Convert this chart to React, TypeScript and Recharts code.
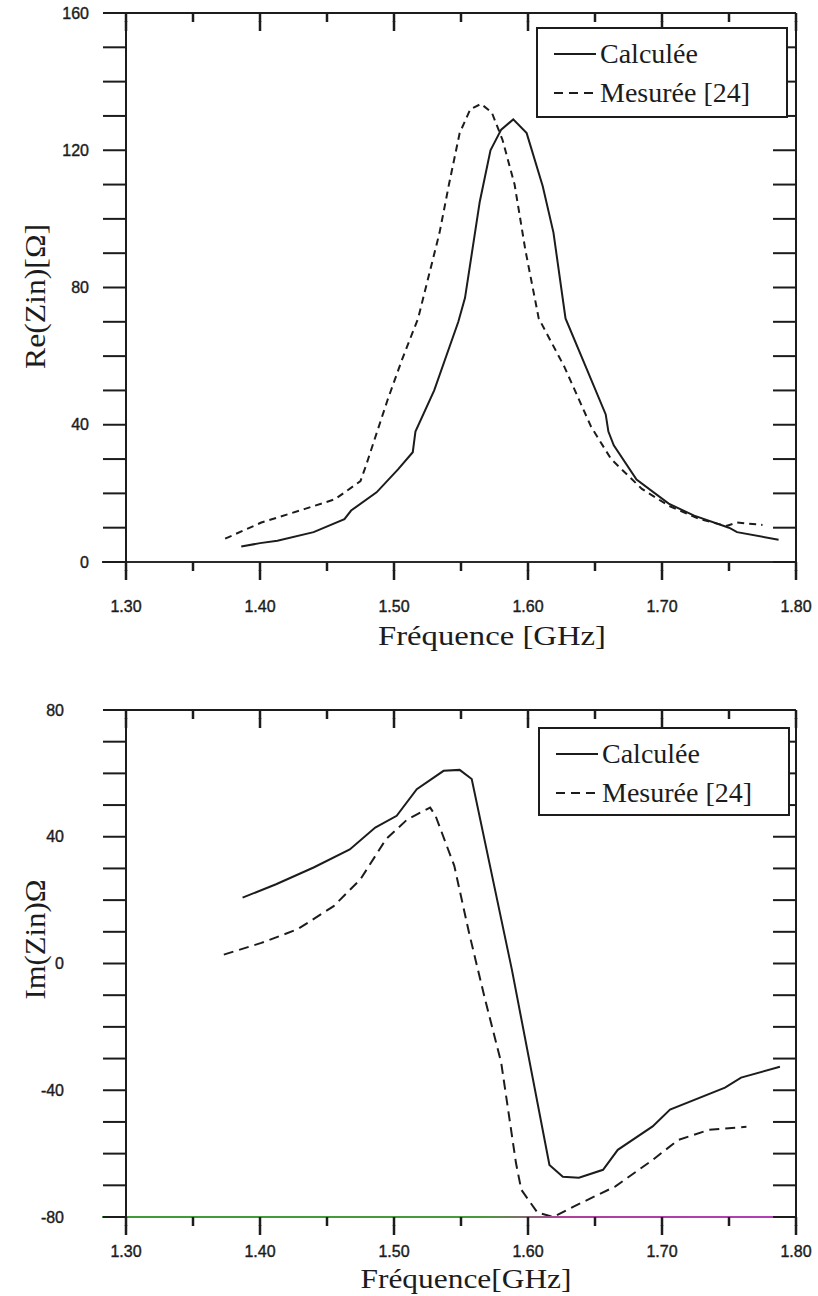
import React from 'react';
import { LineChart, Line, XAxis, YAxis, Legend, Label } from 'recharts';

// axis ticks
const FREQ_TICKS = [1.3, 1.35, 1.4, 1.45, 1.5, 1.55, 1.6, 1.65, 1.7, 1.75, 1.8];
const RE_TICKS = [0, 10, 20, 30, 40, 50, 60, 70, 80, 90, 100, 110, 120, 130, 140, 150, 160];
const IM_TICKS = [-80, -70, -60, -50, -40, -30, -20, -10, 0, 10, 20, 30, 40, 50, 60, 70, 80];

const SERIES_NAMES = ['Calculée', 'Mesurée [24]'];

// Re(Zin) - calculated
const reCalcFreq = [1.386, 1.4, 1.413, 1.44, 1.463, 1.468, 1.487, 1.503, 1.514, 1.516, 1.53, 1.548, 1.553, 1.564, 1.572, 1.58, 1.589, 1.599, 1.611, 1.619, 1.628, 1.643, 1.658, 1.66, 1.664, 1.681, 1.705, 1.724, 1.75, 1.756, 1.787];
const reCalcVal = [4.5, 5.5, 6.2, 8.7, 12.5, 15, 20.3, 27, 32, 38, 50, 70, 77, 105, 120, 126, 129, 125, 109.5, 96, 71, 57, 43, 38, 34, 24, 17, 13.5, 10, 8.7, 6.5];

// Re(Zin) - measured
const reMesFreq = [1.374, 1.401, 1.433, 1.456, 1.475, 1.479, 1.495, 1.506, 1.518, 1.534, 1.541, 1.549, 1.557, 1.565, 1.573, 1.581, 1.59, 1.598, 1.608, 1.627, 1.647, 1.662, 1.685, 1.705, 1.728, 1.748, 1.756, 1.775];
const reMesVal = [6.8, 11.5, 15.4, 18.3, 23.6, 28, 47, 59, 71, 96, 110, 125, 132, 133.5, 131, 123, 110, 91, 71, 57, 39.5, 30, 21.3, 16.4, 12.5, 10.5, 11.5, 10.8];

// Im(Zin) - calculated
const imCalcFreq = [1.387, 1.412, 1.44, 1.467, 1.486, 1.502, 1.517, 1.537, 1.549, 1.558, 1.588, 1.616, 1.626, 1.638, 1.656, 1.667, 1.693, 1.706, 1.747, 1.759, 1.788];
const imCalcVal = [20.8, 25, 30.3, 36, 42.9, 46.6, 55, 60.8, 61.1, 58.2, -2, -63.6, -67.3, -67.6, -65.1, -58.8, -51.4, -46.1, -39.2, -36, -32.6];

// Im(Zin) - measured
const imMesFreq = [1.373, 1.401, 1.428, 1.455, 1.475, 1.494, 1.51, 1.527, 1.531, 1.545, 1.556, 1.568, 1.58, 1.591, 1.595, 1.607, 1.619, 1.634, 1.665, 1.693, 1.712, 1.735, 1.763];
const imMesVal = [2.8, 6.5, 10.8, 18.1, 26.6, 39.2, 45.5, 49.2, 46.6, 30.8, 9.7, -11.4, -31.3, -62.9, -71.4, -78.6, -80, -76.7, -70.4, -62, -55.7, -52.5, -51.5];

const zip = (f: number[], v: number[]) => f.map((x, i) => ({ f: x, v: v[i] }));

const reCalc = zip(reCalcFreq, reCalcVal);
const reMes = zip(reMesFreq, reMesVal);
const imCalc = zip(imCalcFreq, imCalcVal);
const imMes = zip(imMesFreq, imMesVal);

const INK = '#1c1c1c';
const SANS = '"Liberation Sans", Arial, sans-serif';
const SERIF = '"Liberation Serif", "Times New Roman", serif';

// short (minor) tick length, drawn by the axis; majors get the same again
const MINOR = 9;
const TICK_LINE = { stroke: INK, strokeWidth: 2.5 };

const isMajorFreq = (v: number) => Math.round(v * 100) % 10 === 0;

// y here is the end of the axis' own short tick line
const makeBottomTick = (labelDy: number, extColor: string) => (props: any) => {
  const x = Number(props.x);
  const y = Number(props.y);
  const { payload, index } = props;
  const major = isMajorFreq(payload.value);
  return (
    <g>
      {index === 0 && <line x1={x - 24} y1={y - MINOR} x2={x} y2={y - MINOR} stroke={extColor} strokeWidth={2} />}
      {major && <rect x={x - 1.25} y={y - 1} width={2.5} height={MINOR + 1} fill={INK} />}
      {major && (
        <text
          x={x}
          y={y - MINOR + labelDy}
          textAnchor="middle"
          style={{ fontFamily: SANS, fontSize: 16 }}
          fill={INK}
          stroke={INK}
          strokeWidth={0.4}
        >
          {payload.value.toFixed(2)}
        </text>
      )}
    </g>
  );
};

const TopTick = (props: any) => {
  const x = Number(props.x);
  const y = Number(props.y);
  const { payload, index } = props;
  const major = isMajorFreq(payload.value);
  return (
    <g>
      {index === 0 && <line x1={x - 20} y1={y - MINOR} x2={x} y2={y - MINOR} stroke={INK} strokeWidth={2} />}
      {major && <rect x={x - 1.25} y={y - 1} width={2.5} height={MINOR + 1} fill={INK} />}
    </g>
  );
};

const makeLeftTick = (labelGap: number) => (props: any) => {
  const { x, y, payload } = props;
  const major = payload.value % 40 === 0;
  return (
    <g>
      <line x1={x - 23} y1={y} x2={x} y2={y} stroke={INK} strokeWidth={2} />
      {major && (
        <text
          x={x - labelGap}
          y={y}
          textAnchor="end"
          dominantBaseline="central"
          style={{ fontFamily: SANS, fontSize: 16 }}
          fill={INK}
          stroke={INK}
          strokeWidth={0.4}
        >
          {payload.value}
        </text>
      )}
    </g>
  );
};

const RightTick = (props: any) => {
  const { x, y } = props;
  return <line x1={x - 23} y1={y} x2={x} y2={y} stroke={INK} strokeWidth={2} />;
};

const LegendBox = ({ payload, height }: any) => {
  const rows = (payload && payload.length ? payload : SERIES_NAMES.map((n) => ({ value: n }))).map(
    (entry: any, i: number) => ({
      name: entry.value ?? SERIES_NAMES[i],
      dash: i === 1 ? '9 6' : undefined,
    })
  );
  return (
    <svg width={252} height={height} style={{ display: 'block' }}>
      <rect x={1} y={1} width={250} height={height - 2} fill="#fff" stroke={INK} strokeWidth={2} />
      {rows.map((r: any, i: number) => {
        const base = 36 + i * 39;
        return (
          <g key={r.name}>
            <line x1={18} y1={base - 9} x2={60} y2={base - 9} stroke={INK} strokeWidth={2} strokeDasharray={r.dash} />
            <text x={64} y={base} fontFamily={SERIF} fontSize={28} fill={INK}>
              {r.name}
            </text>
          </g>
        );
      })}
    </svg>
  );
};

const xTitle = (text: string, dx: number, dy: number, len: number) => (props: any) => {
  const vb = props.viewBox;
  return (
    <text
      x={vb.x + vb.width / 2 + dx}
      y={vb.y + dy}
      textAnchor="middle"
      style={{ fontFamily: SERIF, fontSize: 28 }}
      fill={INK}
      textLength={len}
      lengthAdjust="spacingAndGlyphs"
    >
      {text}
    </text>
  );
};

const yTitle = (text: string, dy: number, len: number) => (props: any) => {
  const vb = props.viewBox;
  const cx = vb.x + 45;
  const cy = vb.y + vb.height / 2 + dy;
  return (
    <text
      x={cx}
      y={cy}
      transform={`rotate(-90 ${cx} ${cy})`}
      textAnchor="middle"
      style={{ fontFamily: SERIF, fontSize: 30 }}
      fill={INK}
      textLength={len}
      lengthAdjust="spacingAndGlyphs"
    >
      {text}
    </text>
  );
};

const ReChart = () => (
  <LineChart width={818} height={660} margin={{ top: 13, right: 21, left: 0, bottom: 0 }}>
    <XAxis
      xAxisId="bottom"
      dataKey="f"
      type="number"
      domain={[1.3, 1.8]}
      allowDataOverflow
      ticks={FREQ_TICKS}
      interval={0}
      height={98}
      tickSize={MINOR}
      tickMargin={0}
      tickLine={TICK_LINE}
      axisLine={{ stroke: '#2a2a2a', strokeWidth: 2 }}
      tick={makeBottomTick(50, '#2a2a2a')}
    >
      <Label content={xTitle('Fréquence [GHz]', 31, 83, 228)} />
    </XAxis>
    <XAxis
      xAxisId="top"
      orientation="top"
      mirror
      dataKey="f"
      type="number"
      domain={[1.3, 1.8]}
      allowDataOverflow
      ticks={FREQ_TICKS}
      interval={0}
      height={1}
      tickSize={MINOR}
      tickMargin={0}
      tickLine={TICK_LINE}
      axisLine={{ stroke: INK, strokeWidth: 2 }}
      tick={TopTick}
    />
    <YAxis
      yAxisId="left"
      type="number"
      domain={[0, 160]}
      allowDataOverflow
      ticks={RE_TICKS}
      interval={0}
      width={126}
      tickSize={0}
      tickMargin={0}
      tickLine={false}
      axisLine={{ stroke: INK, strokeWidth: 2 }}
      tick={makeLeftTick(37)}
    >
      <Label content={yTitle('Re(Zin)[Ω]', 9, 145)} />
    </YAxis>
    <YAxis
      yAxisId="right"
      orientation="right"
      type="number"
      domain={[0, 160]}
      allowDataOverflow
      ticks={RE_TICKS}
      interval={0}
      width={1}
      tickSize={0}
      tickMargin={0}
      tickLine={false}
      axisLine={{ stroke: INK, strokeWidth: 2 }}
      tick={RightTick}
    />
    <Legend
      layout="horizontal"
      align="center"
      verticalAlign="middle"
      wrapperStyle={{ left: 536, top: 27, width: 252, height: 91 }}
      content={(p: any) => <LegendBox payload={p.payload} height={91} />}
    />
    <Line
      xAxisId="bottom"
      yAxisId="left"
      data={reCalc}
      dataKey="v"
      name={SERIES_NAMES[0]}
      type="linear"
      stroke={INK}
      strokeWidth={2}
      dot={false}
      activeDot={false}
      isAnimationActive={false}
    />
    <Line
      xAxisId="bottom"
      yAxisId="left"
      data={reMes}
      dataKey="v"
      name={SERIES_NAMES[1]}
      type="linear"
      stroke={INK}
      strokeWidth={2}
      strokeDasharray="7 5"
      dot={false}
      activeDot={false}
      isAnimationActive={false}
    />
  </LineChart>
);

const ImChart = () => (
  <LineChart width={818} height={636} margin={{ top: 50, right: 21, left: 0, bottom: 0 }}>
    <defs>
      <linearGradient id="imAxisGrad" gradientUnits="userSpaceOnUse" x1="100" y1="0" x2="797" y2="0">
        <stop offset="0%" stopColor="#3f9a3a" />
        <stop offset="55%" stopColor="#4a9a3a" />
        <stop offset="66%" stopColor="#b0409a" />
        <stop offset="100%" stopColor="#b040b8" />
      </linearGradient>
    </defs>
    <XAxis
      xAxisId="bottom"
      dataKey="f"
      type="number"
      domain={[1.3, 1.8]}
      allowDataOverflow
      ticks={FREQ_TICKS}
      interval={0}
      height={79}
      tickSize={MINOR}
      tickMargin={0}
      tickLine={TICK_LINE}
      axisLine={{ stroke: 'url(#imAxisGrad) #3f9a3a', strokeWidth: 2 }}
      tick={makeBottomTick(40, '#3f9a3a')}
    >
      <Label content={xTitle('Fréquence[GHz]', 5, 71, 211)} />
    </XAxis>
    <XAxis
      xAxisId="top"
      orientation="top"
      mirror
      dataKey="f"
      type="number"
      domain={[1.3, 1.8]}
      allowDataOverflow
      ticks={FREQ_TICKS}
      interval={0}
      height={1}
      tickSize={MINOR}
      tickMargin={0}
      tickLine={TICK_LINE}
      axisLine={{ stroke: INK, strokeWidth: 2 }}
      tick={TopTick}
    />
    <YAxis
      yAxisId="left"
      type="number"
      domain={[-80, 80]}
      allowDataOverflow
      ticks={IM_TICKS}
      interval={0}
      width={126}
      tickSize={0}
      tickMargin={0}
      tickLine={false}
      axisLine={{ stroke: INK, strokeWidth: 2 }}
      tick={makeLeftTick(62)}
    >
      <Label content={yTitle('Im(Zin)Ω', -24, 120)} />
    </YAxis>
    <YAxis
      yAxisId="right"
      orientation="right"
      type="number"
      domain={[-80, 80]}
      allowDataOverflow
      ticks={IM_TICKS}
      interval={0}
      width={1}
      tickSize={0}
      tickMargin={0}
      tickLine={false}
      axisLine={{ stroke: INK, strokeWidth: 2 }}
      tick={RightTick}
    />
    <Legend
      layout="horizontal"
      align="center"
      verticalAlign="middle"
      wrapperStyle={{ left: 538, top: 67, width: 252, height: 89 }}
      content={(p: any) => <LegendBox payload={p.payload} height={89} />}
    />
    <Line
      xAxisId="bottom"
      yAxisId="left"
      data={imCalc}
      dataKey="v"
      name={SERIES_NAMES[0]}
      type="linear"
      stroke={INK}
      strokeWidth={2}
      dot={false}
      activeDot={false}
      isAnimationActive={false}
    />
    <Line
      xAxisId="bottom"
      yAxisId="left"
      data={imMes}
      dataKey="v"
      name={SERIES_NAMES[1]}
      type="linear"
      stroke={INK}
      strokeWidth={2}
      strokeDasharray="10 6"
      dot={false}
      activeDot={false}
      isAnimationActive={false}
    />
  </LineChart>
);

export default function App() {
  return (
    <div style={{ position: 'absolute', left: 0, top: 0, width: 818, height: 1296, background: '#fff' }}>
      <ReChart />
      <ImChart />
    </div>
  );
}
